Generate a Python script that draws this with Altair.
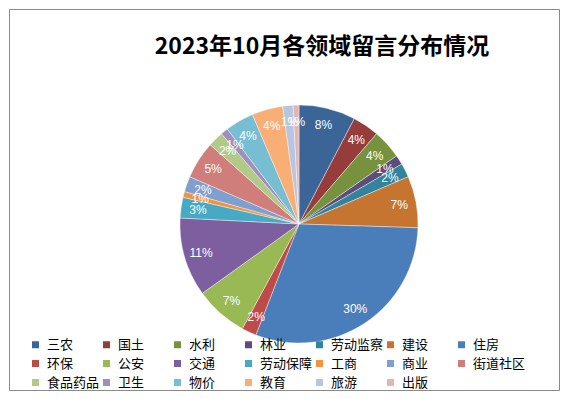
import altair as alt
import pandas as pd

categories = ["三农", "国土", "水利", "林业", "劳动监察", "建设", "住房",
              "环保", "公安", "交通", "劳动保障", "工商", "商业", "街道社区",
              "食品药品", "卫生", "物价", "教育", "旅游", "出版"]
values = [7.7, 3.6, 4.0, 1.3, 1.9, 7.0, 30.4,
          2.0, 7.2, 10.7, 2.8, 0.8, 2.1, 5.1,
          2.1, 1.0, 3.9, 4.2, 1.4, 0.8]
colors = ["#3B6497", "#963C3A", "#77923E", "#604B7D", "#31849B", "#C57530", "#4A7EBB",
          "#BE4B48", "#98B954", "#7D5FA0", "#46AAC5", "#F39240", "#7F9FCF", "#CF7E7C",
          "#B2CA88", "#A08FBB", "#78BED3", "#F9AE76", "#B7C6E0", "#E0B7B6"]
title_text = "2023年10月各领域留言分布情况"

df = pd.DataFrame({"cat": categories, "v": values, "idx": list(range(len(categories)))})

CX, CY = 290, 215
R = 119

base = alt.Chart(df).transform_joinaggregate(
    total="sum(v)"
).transform_calculate(
    pct="datum.v / datum.total"
).encode(
    theta=alt.Theta("v:Q", stack=True),
    order=alt.Order("idx:Q"),
)

arcs = base.mark_arc(outerRadius=R, stroke="#ffffff", strokeWidth=0.4).encode(
    x=alt.value(CX),
    y=alt.value(CY),
    color=alt.Color(
        "cat:N",
        sort=categories,
        scale=alt.Scale(domain=categories, range=colors),
        legend=alt.Legend(
            title=None,
            orient="none",
            legendX=20,
            legendY=329,
            direction="horizontal",
            columns=7,
            gridAlign="all",
            columnPadding=-2.5,
            rowPadding=5,
            symbolType="square",
            symbolSize=49,
            symbolStrokeWidth=0,
            labelFont="Noto Sans CJK SC",
            labelFontSize=13,
            labelColor="#000000",
            labelOffset=5,
            labelLimit=200,
            padding=0,
        ),
    ),
)

labels = base.mark_text(radius=102, fontSize=12, font="Liberation Sans",
                        color="#ffffff").encode(
    x=alt.value(CX),
    y=alt.value(CY),
    text=alt.Text("pct:Q", format=".0%"),
)

title = alt.Chart(pd.DataFrame({"t": [title_text]})).mark_text(
    font="Noto Sans CJK SC", fontSize=23, fontWeight="bold", color="#000000"
).encode(
    x=alt.value(313),
    y=alt.value(38),
    text="t:N",
)

chart = alt.layer(arcs, labels, title).properties(
    width=550, height=381, autosize="none",
    padding={"left": 1, "top": 1, "right": 1, "bottom": 1},
).configure_view(stroke="#8a8a8a", strokeWidth=1)

chart.save("out.html", embed_options={"renderer": "svg", "actions": False})
